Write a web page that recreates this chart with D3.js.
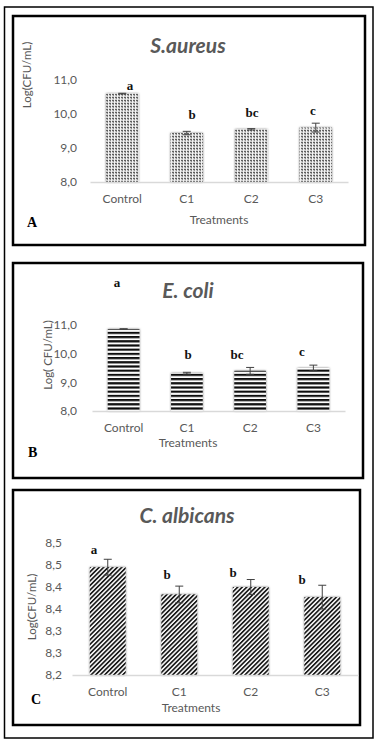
<!DOCTYPE html>
<html><head><meta charset="utf-8">
<script src="https://cdn.jsdelivr.net/npm/d3@7/dist/d3.min.js"></script>
<style>
html,body{margin:0;padding:0;background:#fff;}
svg{display:block;}
</style></head>
<body>
<svg id="chart" width="381" height="742"></svg>
<script>
// ---------- data ----------
const categories = ["Control", "C1", "C2", "C3"];

const saureusMeans = [10.60, 9.44, 9.55, 9.60];
const saureusErr   = [0.01, 0.05, 0.02, 0.13];
const saureusLetters = ["a", "b", "bc", "c"];
const saureusTicks = [8, 9, 10, 11];
const saureusTickLabels = ["8,0", "9,0", "10,0", "11,0"];

const ecoliMeans = [10.86, 9.32, 9.40, 9.50];
const ecoliErr   = [0.01, 0.03, 0.12, 0.10];
const ecoliLetters = ["a", "b", "bc", "c"];
const ecoliTicks = [8, 9, 10, 11];
const ecoliTickLabels = ["8,0", "9,0", "10,0", "11,0"];

const albicansMeans = [8.445, 8.383, 8.400, 8.377];
const albicansErr   = [0.018, 0.019, 0.017, 0.027];
const albicansLetters = ["a", "b", "b", "b"];
const albicansTicks = [8.2, 8.25, 8.3, 8.35, 8.4, 8.45, 8.5];
const albicansTickLabels = ["8,2", "8,3", "8,3", "8,4", "8,4", "8,5", "8,5"];

// ---------- setup ----------
const svg = d3.select("#chart");
const defs = svg.append("defs");

// dotted pattern (A)
const pA = defs.append("pattern").attr("id", "patA").attr("patternUnits", "userSpaceOnUse")
  .attr("width", 3).attr("height", 3);
pA.append("rect").attr("width", 3).attr("height", 3).attr("fill", "#cfcfcf");
pA.append("rect").attr("x", 0).attr("y", 0).attr("width", 1).attr("height", 3).attr("fill", "#f2f2f2");
pA.append("rect").attr("x", 1).attr("y", 1).attr("width", 2).attr("height", 1).attr("fill", "#5e5e5e");
pA.append("rect").attr("x", 2).attr("y", 2).attr("width", 1).attr("height", 1).attr("fill", "#8e8e8e");

// horizontal stripes (B)
const pB = defs.append("pattern").attr("id", "patB").attr("patternUnits", "userSpaceOnUse")
  .attr("width", 4).attr("height", 4.2);
pB.append("rect").attr("width", 4).attr("height", 4.2).attr("fill", "#ffffff");
pB.append("rect").attr("y", 0).attr("width", 4).attr("height", 2.2).attr("fill", "#111");

// diagonal stripes (C)
const pC = defs.append("pattern").attr("id", "patC").attr("patternUnits", "userSpaceOnUse")
  .attr("width", 3.2).attr("height", 4).attr("patternTransform", "rotate(45)");
pC.append("rect").attr("width", 3.2).attr("height", 4).attr("fill", "#ffffff");
pC.append("rect").attr("width", 1.7).attr("height", 4).attr("fill", "#1a1a1a");

// soft shadow for bars
const f = defs.append("filter").attr("id", "shadow").attr("x", "-20%").attr("y", "-10%")
  .attr("width", "140%").attr("height", "120%");
f.append("feDropShadow").attr("dx", 0).attr("dy", 0).attr("stdDeviation", 1.3)
  .attr("flood-color", "#000").attr("flood-opacity", 0.55);

// outer frame
svg.append("rect").attr("x", 4.5).attr("y", 7).attr("width", 368.5).attr("height", 731)
  .attr("fill", "none").attr("stroke", "#000").attr("stroke-width", 1.5);

const labelFont = "Lato, 'Open Sans', sans-serif";
const serif = "'Liberation Serif', 'DejaVu Serif', serif";
const textGray = "#595959";

function drawPanel(cfg) {
  const g = svg.append("g");
  g.append("rect").attr("x", cfg.box[0]).attr("y", cfg.box[1])
    .attr("width", cfg.box[2] - cfg.box[0]).attr("height", cfg.box[3] - cfg.box[1])
    .attr("fill", "#fff").attr("stroke", "#000").attr("stroke-width", 2.5);

  const x = d3.scaleBand().domain(categories).range(cfg.xRange)
    .paddingInner(0.5).paddingOuter(0.25);
  const y = d3.scaleLinear().domain(cfg.yDomain).range(cfg.yRange);

  // title
  g.append("text").attr("x", cfg.title[0]).attr("y", cfg.title[1])
    .attr("text-anchor", "middle").attr("font-family", labelFont)
    .attr("font-weight", "bold").attr("font-style", "italic")
    .attr("font-size", cfg.titleSize).attr("fill", textGray).text(cfg.titleText);

  // y axis (labels only)
  const yAxis = d3.axisLeft(y).tickValues(cfg.ticks)
    .tickFormat((d, i) => cfg.tickLabels[i]).tickSize(0).tickPadding(0);
  const ya = g.append("g").attr("transform", `translate(${cfg.tickRight},0)`).call(yAxis);
  ya.select(".domain").remove();
  ya.selectAll("text").attr("font-family", labelFont).attr("font-size", 12)
    .attr("fill", textGray);

  // y label
  g.append("text").attr("transform", `translate(${cfg.yLabel[0]},${cfg.yLabel[1]}) rotate(-90)`)
    .attr("text-anchor", "middle").attr("dy", "0.35em")
    .attr("font-family", labelFont).attr("font-size", 11.5).attr("fill", textGray)
    .text(cfg.yLabelText);

  // bars
  g.selectAll(".bar").data(cfg.means).enter().append("rect")
    .attr("x", (d, i) => x(categories[i]))
    .attr("y", d => y(d))
    .attr("width", x.bandwidth())
    .attr("height", d => y(cfg.yDomain[0]) - y(d))
    .attr("fill", `url(#${cfg.pattern})`)
    .attr("filter", "url(#shadow)");

  // x axis line
  const xa = g.append("g").attr("transform", `translate(0,${y(cfg.yDomain[0])})`)
    .call(d3.axisBottom(x).tickSize(0).tickPadding(cfg.catPad));
  xa.select(".domain").attr("stroke", "#d9d9d9").attr("stroke-width", 1.5);
  xa.selectAll("text").attr("font-family", labelFont).attr("font-size", 12)
    .attr("fill", textGray);

  // error bars
  const eg = g.append("g").attr("stroke", "#404040").attr("stroke-width", 1);
  cfg.means.forEach((m, i) => {
    const cx = x(categories[i]) + x.bandwidth() / 2;
    const e = cfg.err[i];
    eg.append("line").attr("x1", cx).attr("x2", cx).attr("y1", y(m - e)).attr("y2", y(m + e));
    eg.append("line").attr("x1", cx - 4).attr("x2", cx + 4).attr("y1", y(m + e)).attr("y2", y(m + e));
    eg.append("line").attr("x1", cx - 4).attr("x2", cx + 4).attr("y1", y(m - e)).attr("y2", y(m - e));
  });

  // significance letters
  cfg.letters.forEach((t, i) => {
    g.append("text").attr("x", cfg.letterPos[i][0]).attr("y", cfg.letterPos[i][1])
      .attr("text-anchor", "middle").attr("font-family", serif).attr("font-weight", "bold")
      .attr("font-size", 13).attr("fill", "#111").text(t);
  });

  // x title
  g.append("text").attr("x", cfg.xTitle[0]).attr("y", cfg.xTitle[1])
    .attr("text-anchor", "middle").attr("font-family", labelFont).attr("font-size", 12)
    .attr("fill", textGray).text("Treatments");

  // panel letter
  g.append("text").attr("x", cfg.panel[0]).attr("y", cfg.panel[1])
    .attr("font-family", serif).attr("font-weight", "bold").attr("font-size", 14)
    .attr("fill", "#000").text(cfg.panelText);
}

drawPanel({
  box: [13, 16, 365, 245], xRange: [90, 348], yDomain: [8, 11], yRange: [182, 80],
  title: [188, 53], titleSize: 21, titleText: "S.aureus",
  ticks: saureusTicks, tickLabels: saureusTickLabels, tickRight: 77,
  yLabel: [27, 75], yLabelText: "Log(CFU/mL)",
  means: saureusMeans, err: saureusErr, pattern: "patA",
  letters: saureusLetters, letterPos: [[130, 90], [192, 119], [252, 117], [313, 115]],
  catPad: 12, xTitle: [219, 224], panel: [27, 227], panelText: "A"
});

drawPanel({
  box: [13, 263, 363, 478], xRange: [92, 345], yDomain: [8, 11], yRange: [411, 325],
  title: [188, 298], titleSize: 21, titleText: "E. coli",
  ticks: ecoliTicks, tickLabels: ecoliTickLabels, tickRight: 77,
  yLabel: [48, 355], yLabelText: "Log( CFU/mL)",
  means: ecoliMeans, err: ecoliErr, pattern: "patB",
  letters: ecoliLetters, letterPos: [[117, 287], [188, 359], [237, 359], [302, 356]],
  catPad: 12, xTitle: [188, 447], panel: [28, 457], panelText: "B"
});

drawPanel({
  box: [13, 490, 360, 725], xRange: [72, 358], yDomain: [8.2, 8.5], yRange: [675, 543],
  title: [187, 523], titleSize: 21, titleText: "C. albicans",
  ticks: albicansTicks, tickLabels: albicansTickLabels, tickRight: 62,
  yLabel: [32, 607], yLabelText: "Log(CFU/mL)",
  means: albicansMeans, err: albicansErr, pattern: "patC",
  letters: albicansLetters, letterPos: [[94, 554], [167, 579], [233, 577], [302, 584]],
  catPad: 12, xTitle: [191, 712], panel: [31, 704], panelText: "C"
});
</script>
</body></html>
